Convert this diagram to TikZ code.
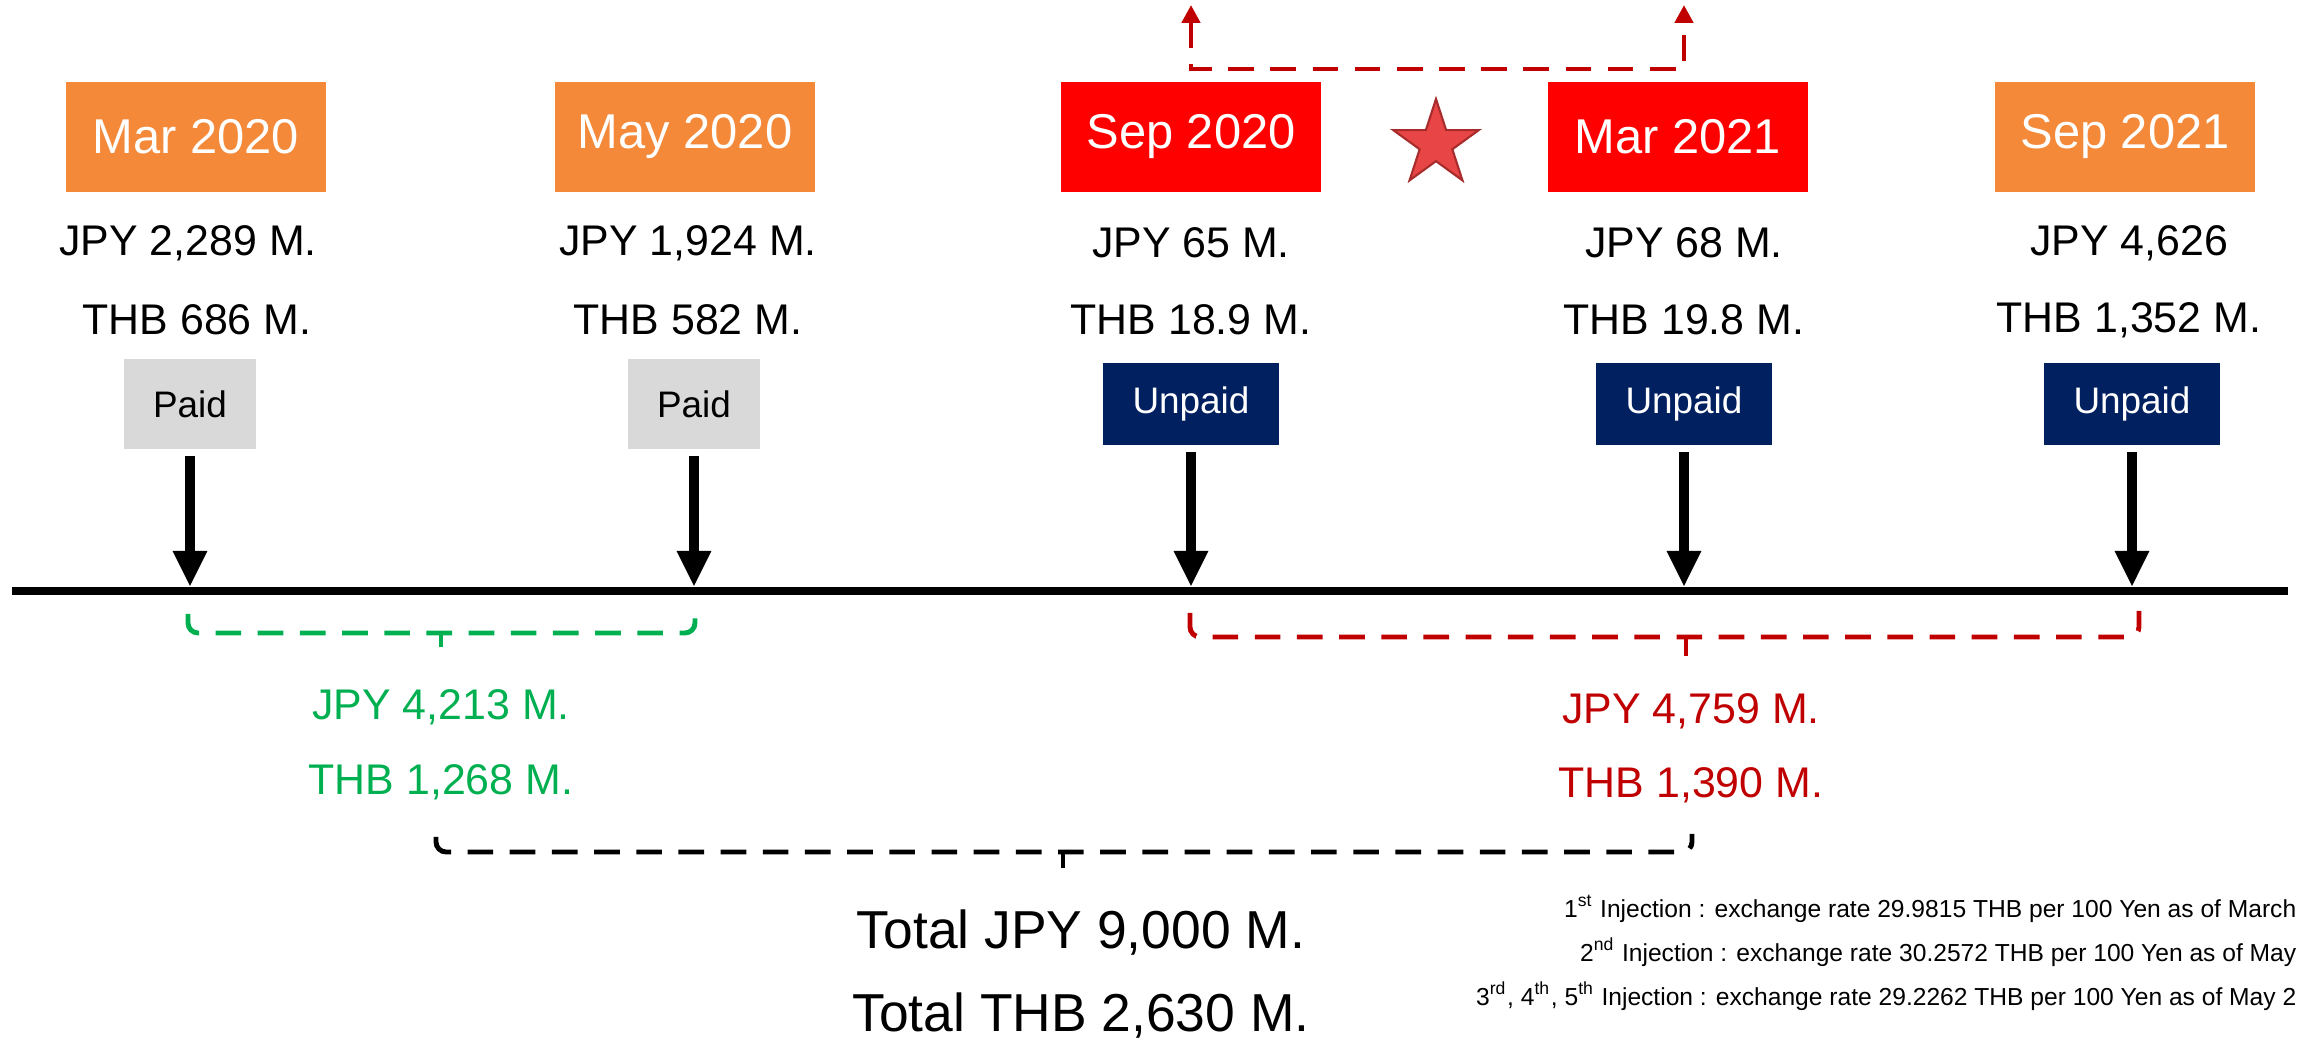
\documentclass[tikz,border=0pt]{standalone}
\usepackage{fontspec}
\setmainfont{Liberation Sans}
\usetikzlibrary{arrows.meta,shapes.geometric}
\definecolor{dateorange}{RGB}{244,137,58}
\definecolor{datered}{RGB}{255,0,0}
\definecolor{paidgray}{RGB}{217,217,217}
\definecolor{unpaidnavy}{RGB}{0,32,96}
\definecolor{paidgreen}{RGB}{0,176,80}
\definecolor{duered}{RGB}{192,0,0}
\definecolor{starfill}{RGB}{232,70,70}
\definecolor{starline}{RGB}{168,44,44}
\begin{document}
\begin{tikzpicture}[
		datebox/.style={fill=#1, text=white, minimum width=2.6cm, minimum height=1.1cm, inner sep=0pt, font=\fontsize{13.9}{16}\selectfont},
		amount/.style={inner sep=0pt, font=\fontsize{12.2}{14}\selectfont},
		paidbox/.style={fill=paidgray, minimum width=1.32cm, minimum height=0.9cm, inner sep=0pt, font=\fontsize{10.5}{12}\selectfont},
		unpaidbox/.style={fill=unpaidnavy, text=white, minimum width=1.76cm, minimum height=0.82cm, inner sep=0pt, font=\fontsize{10.5}{12}\selectfont},
		payarrow/.style={line width=2.8pt, -{Triangle[width=0.32cm,length=0.36cm]}, shorten <=0.06cm},
		brace/.style={line width=1.4pt, dash pattern=on 7.3pt off 4.7pt, rounded corners=0.1cm},
		tick/.style={line width=1.4pt},
	]
		\useasboundingbox (0,0) rectangle (23,10.52);
		
		% Dates
		\node[datebox=dateorange] (mar20) at (1.96,9.15) {Mar 2020};
		\node[datebox=dateorange] (may20) at (6.85,9.15) {May 2020};
		\node[datebox=datered] (sep20) at (11.91,9.15) {Sep 2020};
		\node[datebox=datered] (mar21) at (16.78,9.15) {Mar 2021};
		\node[datebox=dateorange] (sep21) at (21.25,9.15) {Sep 2021};
		\node[star, star points=5, star point ratio=2.618, minimum size=0.9cm, inner sep=0pt, fill=starfill, draw=starline, line width=0.6pt] (star) at (14.36,9.08) {};
		
		% Postponed (red dashed, upwards)
		\coordinate (upA) at (11.91,10.47);
		\coordinate (cornA) at (11.91,9.83);
		\coordinate (cornB) at (16.84,9.83);
		\coordinate (upB) at (16.84,10.47);
		\draw[duered, line width=1.4pt, dash pattern=on 7.3pt off 4.7pt, {Triangle[width=0.18cm,length=0.18cm]}-{Triangle[width=0.18cm,length=0.18cm]}] (upA) -- (cornA) -- (cornB) -- (upB);
		
		% Amounts
		\node[amount] (jpy1) at (1.88,8.09) {JPY 2,289 M.};
		\node[amount] (thb1) at (1.97,7.32) {THB 686 M.};
		\node[amount] (jpy2) at (6.88,8.09) {JPY 1,924 M.};
		\node[amount] (thb2) at (6.88,7.32) {THB 582 M.};
		\node[amount] (jpy3) at (11.91,8.09) {JPY 65 M.};
		\node[amount] (thb3) at (11.91,7.32) {THB 18.9 M.};
		\node[amount] (jpy4) at (16.84,8.09) {JPY 68 M.};
		\node[amount] (thb4) at (16.84,7.32) {THB 19.8 M.};
		\node[amount] (jpy5) at (21.29,8.09) {JPY 4,626};
		\node[amount] (thb5) at (21.29,7.32) {THB 1,352 M.};
		
		% Status
		\node[paidbox] (st1) at (1.90,6.48) {Paid};
		\node[paidbox] (st2) at (6.94,6.48) {Paid};
		\node[unpaidbox] (st3) at (11.91,6.48) {Unpaid};
		\node[unpaidbox] (st4) at (16.84,6.48) {Unpaid};
		\node[unpaidbox] (st5) at (21.32,6.48) {Unpaid};
		
		% Timeline
		\coordinate (tlL) at (0.12,4.61);
		\coordinate (tlR) at (22.88,4.61);
		\draw[line width=2.2pt] (tlL) -- (tlR);
		\foreach \i/\x in {1/1.90, 2/6.94, 3/11.91, 4/16.84, 5/21.32} {
			\coordinate (tl\i) at (\x,4.65);
			\draw[payarrow] (st\i) -- (tl\i);
		}
		
		% Paid bracket
		\draw[brace, paidgreen] (1.88,4.38) -- (1.88,4.19) -- (6.95,4.19) -- (6.95,4.40);
		\draw[tick, paidgreen] (4.41,4.19) -- (4.41,4.05);
		\node[amount, text=paidgreen] (jpyPaid) at (4.41,3.45) {JPY 4,213 M.};
		\node[amount, text=paidgreen] (thbPaid) at (4.41,2.70) {THB 1,268 M.};
		
		% Unpaid bracket
		\draw[brace, duered] (11.90,4.39) -- (11.90,4.15) -- (21.39,4.15) -- (21.39,4.41);
		\draw[tick, duered] (16.86,4.15) -- (16.86,3.96);
		\node[amount, text=duered] (jpyDue) at (16.91,3.41) {JPY 4,759 M.};
		\node[amount, text=duered] (thbDue) at (16.91,2.67) {THB 1,390 M.};
		
		% Total bracket
		\draw[brace] (4.36,2.15) -- (4.36,2.00) -- (16.92,2.00) -- (16.92,2.18);
		\draw[tick] (10.63,2.00) -- (10.63,1.84);
		\node[font=\fontsize{15.2}{18}\selectfont, inner sep=0pt] (jpyTotal) at (10.81,1.19) {Total JPY 9,000 M.};
		\node[font=\fontsize{15.2}{18}\selectfont, inner sep=0pt] (thbTotal) at (10.81,0.36) {Total THB 2,630 M.};
		
		% Exchange rates
		\node[anchor=east, align=right, inner sep=0pt, font=\fontsize{7}{12.5}\selectfont] (rates) at (22.97,0.99) {1\textsuperscript{st} Injection : exchange rate 29.9815 THB per 100 Yen as of March\\
			2\textsuperscript{nd} Injection : exchange rate 30.2572 THB per 100 Yen as of May\\
			3\textsuperscript{rd}, 4\textsuperscript{th}, 5\textsuperscript{th} Injection : exchange rate 29.2262 THB per 100 Yen as of May 2};
	\end{tikzpicture}
\end{document}
